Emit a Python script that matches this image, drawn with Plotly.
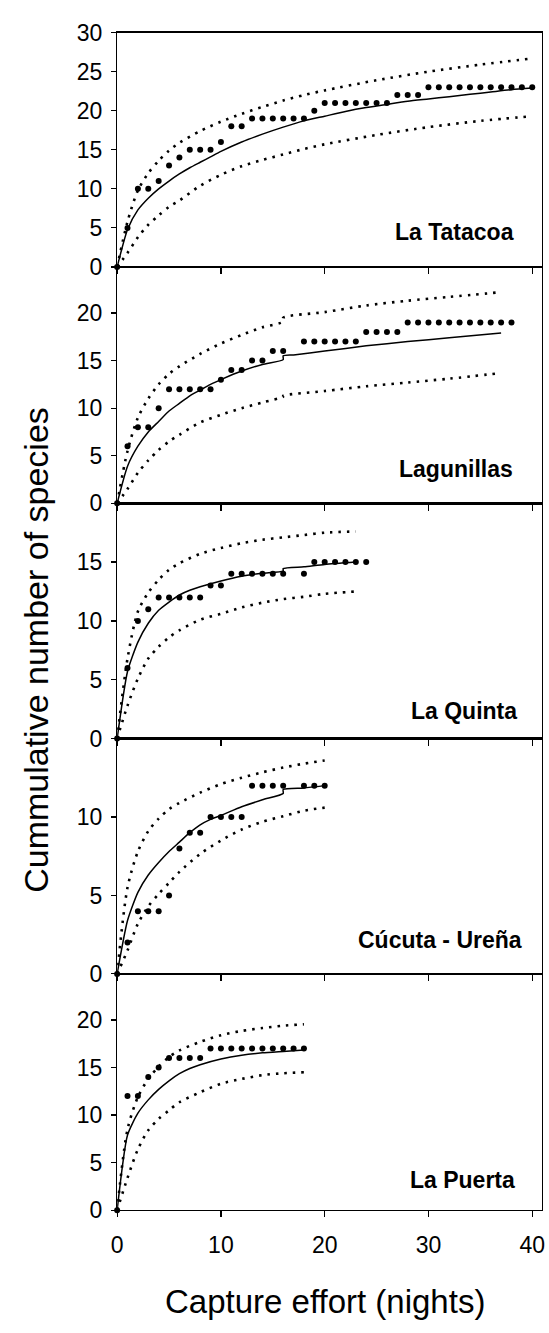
import plotly.graph_objects as go

# ---------------- data ----------------
site_names = ["La Tatacoa", "Lagunillas", "La Quinta", "Cúcuta - Ureña", "La Puerta"]

# observed cumulative species (index = night number; None = no point)
obs_tatacoa = [0, 5, 10, 10, 11, 13, 14, 15, 15, 15, 16, 18, 18, 19, 19, 19, 19, 19, 19, 20,
               21, 21, 21, 21, 21, 21, 21, 22, 22, 22,
               23, 23, 23, 23, 23, 23, 23, 23, 23, 23, 23]
obs_lagunillas = [0, 6, 8, 8, 10, 12, 12, 12, 12, 12, 13, 14, 14, 15, 15, 16, 16, None,
                  17, 17, 17, 17, 17, 17, 18, 18, 18, 18,
                  19, 19, 19, 19, 19, 19, 19, 19, 19, 19, 19]
obs_quinta = [0, 6, 10, 11, 12, 12, 12, 12, 12, 13, 13, 14, 14, 14, 14, 14, 14, None, 14,
              15, 15, 15, 15, 15, 15]
obs_cucuta = [0, 2, 4, 4, 4, 5, 8, 9, 9, 10, 10, 10, 10, 12, 12, 12, 12, None, 12, 12, 12]
obs_puerta = [0, 12, 12, 14, 15, 16, 16, 16, 16, 17, 17, 17, 17, 17, 17, 17, 17, 17, 17]

# expected curve (solid)
mean_x_tatacoa = [0, 1, 2, 3, 4, 5, 6, 7, 8, 9, 10, 12, 14, 16, 18, 20, 22, 24, 26, 28, 30, 32, 34, 36, 38, 40]
mean_y_tatacoa = [0, 4.8, 7.3, 8.8, 10.0, 11.0, 11.9, 12.7, 13.4, 14.1, 14.8, 16.0, 17.0, 17.9, 18.7, 19.3,
                  19.9, 20.4, 20.8, 21.2, 21.5, 21.8, 22.1, 22.4, 22.7, 22.9]
mean_x_lagunillas = [0, 1, 2, 3, 4, 5, 6, 7, 8, 9, 10, 12, 14, 16, 16, 17, 20, 24, 28, 32, 37]
mean_y_lagunillas = [0, 3.9, 6.0, 7.5, 8.6, 9.7, 10.5, 11.3, 11.9, 12.5, 13.0, 13.9, 14.6, 15.1, 15.5, 15.6,
                     16.0, 16.55, 17.0, 17.4, 17.9]
mean_x_quinta = [0, 1, 2, 3, 4, 5, 6, 7, 8, 10, 12, 14, 16, 16, 18, 20, 23]
mean_y_quinta = [0, 5.7, 8.2, 9.8, 10.9, 11.6, 12.2, 12.6, 12.9, 13.4, 13.8, 14.05, 14.25, 14.45, 14.6, 14.8, 15.0]
mean_x_cucuta = [0, 1, 2, 3, 4, 5, 6, 7, 8, 9, 10, 12, 14, 16, 16, 18, 20]
mean_y_cucuta = [0, 3.4, 5.2, 6.3, 7.1, 7.8, 8.4, 9.0, 9.5, 9.85, 10.1, 10.65, 11.1, 11.5, 11.75, 11.85, 12.0]
mean_x_puerta = [0, 1, 2, 3, 4, 5, 6, 7, 8, 10, 12, 14, 16, 18]
mean_y_puerta = [0, 7.9, 10.2, 11.6, 12.7, 13.6, 14.35, 14.9, 15.3, 15.9, 16.3, 16.55, 16.7, 16.85]

# confidence limits (dotted)
ci_x_tatacoa = [0, 1, 2, 3, 4, 5, 6, 8, 10, 12, 14, 16, 18, 20, 25, 30, 35, 40]
upper_tatacoa = [0, 5.8, 9.8, 12.0, 13.6, 14.9, 15.9, 17.4, 18.6, 19.6, 20.5, 21.3, 22.0, 22.6, 23.9, 25.0, 25.9, 26.7]
lower_tatacoa = [0, 1.8, 3.8, 5.4, 6.6, 7.7, 8.5, 10.4, 11.8, 12.9, 13.7, 14.4, 15.1, 15.7, 16.9, 17.9, 18.7, 19.3]

ci_x_lagunillas = [0, 1, 2, 3, 4, 5, 6, 8, 10, 12, 14, 16, 16, 20, 24, 28, 32, 37]
upper_lagunillas = [0, 5.5, 9.0, 11.0, 12.5, 13.6, 14.4, 15.7, 16.8, 17.7, 18.5, 19.1, 19.5, 20.1, 20.8, 21.3, 21.7, 22.2]
lower_lagunillas = [0, 1.5, 3.2, 4.5, 5.6, 6.5, 7.2, 8.5, 9.3, 10.0, 10.6, 11.2, 11.3, 11.8, 12.3, 12.7, 13.1, 13.7]

ci_x_quinta = [0, 1, 2, 3, 4, 5, 6, 8, 10, 12, 14, 16, 18, 20, 23]
upper_quinta = [0, 6.8, 10.8, 12.4, 13.5, 14.35, 14.9, 15.7, 16.2, 16.6, 16.9, 17.1, 17.3, 17.5, 17.6]
lower_quinta = [0, 2.8, 5.1, 6.8, 7.8, 8.6, 9.2, 10.1, 10.6, 11.15, 11.55, 11.85, 12.05, 12.3, 12.5]

ci_x_cucuta = [0, 1, 2, 3, 4, 5, 6, 8, 10, 12, 14, 16, 18, 20]
upper_cucuta = [0, 5.5, 7.8, 9.1, 9.9, 10.5, 10.9, 11.55, 12.1, 12.5, 12.85, 13.15, 13.4, 13.6]
lower_cucuta = [0, 1.5, 3.2, 4.3, 5.1, 5.8, 6.5, 7.65, 8.5, 9.2, 9.7, 10.05, 10.4, 10.6]

ci_x_puerta = [0, 1, 2, 3, 4, 5, 6, 8, 10, 12, 14, 16, 18]
upper_puerta = [0, 8.5, 11.9, 13.8, 15.1, 16.1, 16.8, 17.7, 18.4, 18.85, 19.15, 19.4, 19.55]
lower_puerta = [0, 3.4, 6.4, 8.4, 9.6, 10.5, 11.35, 12.4, 13.3, 13.8, 14.2, 14.4, 14.5]

y_max = [30, 24.85, 20, 15, 24.85]
y_ticks = [[0, 5, 10, 15, 20, 25, 30], [0, 5, 10, 15, 20], [0, 5, 10, 15], [0, 5, 10], [0, 5, 10, 15, 20]]
x_ticks = [0, 10, 20, 30, 40]

# ---------------- layout geometry (pixels) ----------------
W, H = 549, 1333
plot_left, plot_right = 113, 545
panel_edges = [20, 259, 500, 740, 980, 1221]
label_pos = [(518, 223), (517, 465), (522, 712), (527, 945), (520, 1190)]

FONT = "Liberation Sans, Arial, sans-serif"

panels = [
    (obs_tatacoa, mean_x_tatacoa, mean_y_tatacoa, ci_x_tatacoa, upper_tatacoa, lower_tatacoa),
    (obs_lagunillas, mean_x_lagunillas, mean_y_lagunillas, ci_x_lagunillas, upper_lagunillas, lower_lagunillas),
    (obs_quinta, mean_x_quinta, mean_y_quinta, ci_x_quinta, upper_quinta, lower_quinta),
    (obs_cucuta, mean_x_cucuta, mean_y_cucuta, ci_x_cucuta, upper_cucuta, lower_cucuta),
    (obs_puerta, mean_x_puerta, mean_y_puerta, ci_x_puerta, upper_puerta, lower_puerta),
]

fig = go.Figure()
layout = dict(
    width=W, height=H,
    margin=dict(l=0, r=0, t=0, b=0),
    paper_bgcolor="white", plot_bgcolor="white",
    showlegend=False,
    font=dict(family=FONT, color="black"),
)

dot_dash = "2.5px,6px"
for i, (obs, mx, my, cx, up, lo) in enumerate(panels):
    n = i + 1
    xa = "x" if n == 1 else f"x{n}"
    ya = "y" if n == 1 else f"y{n}"
    for ci in (up, lo):
        fig.add_trace(go.Scatter(x=cx, y=ci, mode="lines", xaxis=xa, yaxis=ya,
                                 line=dict(color="black", width=2.6, dash=dot_dash,
                                           shape="spline", smoothing=0.8),
                                 hoverinfo="skip"))
    fig.add_trace(go.Scatter(x=mx, y=my, mode="lines", xaxis=xa, yaxis=ya,
                             line=dict(color="black", width=1.5, shape="spline", smoothing=0.6),
                             hoverinfo="skip"))
    fig.add_trace(go.Scatter(x=list(range(len(obs))), y=obs, mode="markers", xaxis=xa, yaxis=ya,
                             marker=dict(color="black", size=6), cliponaxis=False,
                             hoverinfo="skip"))

    top, bot = panel_edges[i], panel_edges[i + 1]
    ydom = [1 - bot / H, 1 - top / H]
    xkey = "xaxis" if n == 1 else f"xaxis{n}"
    ykey = "yaxis" if n == 1 else f"yaxis{n}"
    layout[xkey] = dict(
        domain=[plot_left / W, plot_right / W], anchor=ya,
        range=[0, 40 * (plot_right - plot_left) / (535 - plot_left)],
        tickvals=x_ticks, showticklabels=(n == 5),
        ticks="outside", ticklen=6, tickwidth=1.2, tickcolor="black",
        showline=True, linecolor="black", linewidth=1.3, mirror=True,
        showgrid=False, zeroline=False,
        tickfont=dict(size=23, family=FONT, color="black"),
        ticklabelstandoff=8,
    )
    layout[ykey] = dict(
        domain=ydom, anchor=xa,
        range=[0, y_max[i]],
        tickvals=y_ticks[i],
        ticks="outside", ticklen=5, tickwidth=1.2, tickcolor="black",
        showline=True, linecolor="black", linewidth=1.3, mirror=True,
        showgrid=False, zeroline=False,
        tickfont=dict(size=23, family=FONT, color="black"),
        ticklabelstandoff=4,
    )

annotations = []
for name, (px, py) in zip(site_names, label_pos):
    annotations.append(dict(text=f"<b>{name}</b>", x=px / W, y=1 - py / H, xref="paper", yref="paper",
                            xanchor="right", yanchor="middle", showarrow=False,
                            font=dict(size=23, family=FONT, color="black")))
annotations.append(dict(text="Cummulative number of species", x=31 / W, y=1 - 649 / H,
                        xref="paper", yref="paper", xanchor="center", yanchor="middle",
                        textangle=-90, showarrow=False,
                        font=dict(size=34, family=FONT, color="black")))
annotations.append(dict(text="Capture effort (nights)", x=324 / W, y=1 - 1314 / H,
                        xref="paper", yref="paper", xanchor="center", yanchor="middle",
                        showarrow=False, font=dict(size=33, family=FONT, color="black")))
layout["annotations"] = annotations

fig.update_layout(**layout)
fig.write_html("out.html",
               config={"displayModeBar": False, "staticPlot": True},
               post_script="document.body.style.margin='0';document.body.style.overflow='hidden';")
